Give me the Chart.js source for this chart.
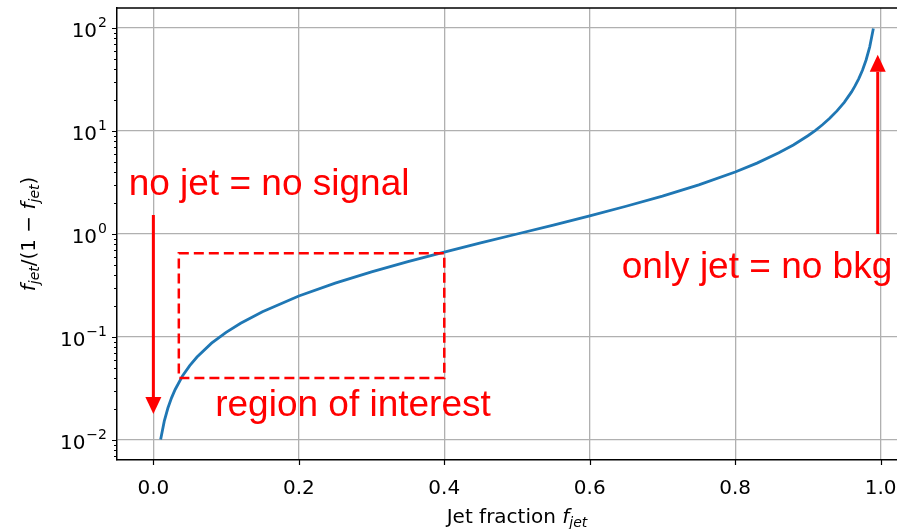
<!DOCTYPE html>
<html>
<head>
<meta charset="utf-8">
<script src="https://cdn.jsdelivr.net/npm/chart.js@4.4.1/dist/chart.umd.min.js"></script>
<style>
  html, body { margin: 0; padding: 0; background: #fff; overflow: hidden; }
  #fjet { display: block; }
</style>
</head>
<body>
<canvas id="fjet" width="930" height="529"></canvas>
<script>
  "use strict";

  // jet fraction vs f/(1-f)
  const fracX = [0.01, 0.015, 0.02, 0.025, 0.03, 0.04, 0.05, 0.06, 0.08, 0.1, 0.12, 0.15, 0.2, 0.25, 0.3, 0.35,
    0.4, 0.45, 0.5, 0.55, 0.6, 0.65, 0.7, 0.75, 0.8, 0.83, 0.86, 0.88, 0.9, 0.91, 0.92, 0.93, 0.94, 0.95,
    0.96, 0.965, 0.97, 0.975, 0.98, 0.985, 0.99];
  const ratioY = [0.0101, 0.0152, 0.0204, 0.0256, 0.0309, 0.0417, 0.0526, 0.0638, 0.087, 0.111, 0.136, 0.176,
    0.25, 0.333, 0.429, 0.538, 0.667, 0.818, 1.0, 1.22, 1.5, 1.86, 2.33, 3.0, 4.0, 4.88, 6.14, 7.33, 9.0,
    10.1, 11.5, 13.3, 15.7, 19.0, 24.0, 27.6, 32.3, 39.0, 49.0, 65.7, 99.0];

  const xTicks = [0, 0.2, 0.4, 0.6, 0.8, 1.0];
  const xTickLabels = ["0.0", "0.2", "0.4", "0.6", "0.8", "1.0"];
  const yDecades = [0.01, 0.1, 1, 10, 100];
  const yDecadeExp = ["\u22122", "\u22121", "0", "1", "2"];
  const yMinor = [0.007, 0.008, 0.009, 0.02, 0.03, 0.04, 0.05, 0.06, 0.07, 0.08, 0.09,
    0.2, 0.3, 0.4, 0.5, 0.6, 0.7, 0.8, 0.9, 2, 3, 4, 5, 6, 7, 8, 9, 20, 30, 40, 50, 60, 70, 80, 90];

  const RED = "#ff0000";
  const TXT = "#000000";
  const TICK_FONT = "DejaVu Sans";
  const FS = 20;

  function isDecade(v) {
    const l = Math.log10(v);
    return Math.abs(l - Math.round(l)) < 1e-9;
  }

  function arrow(ctx, x, y0, y1) {
    // vertical arrow from y0 to tip y1 (pixels)
    const dir = y1 > y0 ? 1 : -1;
    const headL = 17, headW = 8;
    ctx.save();
    ctx.strokeStyle = RED;
    ctx.fillStyle = RED;
    ctx.lineWidth = 3;
    ctx.beginPath();
    ctx.moveTo(x, y0);
    ctx.lineTo(x, y1 - dir * headL);
    ctx.stroke();
    ctx.beginPath();
    ctx.moveTo(x, y1);
    ctx.lineTo(x - headW, y1 - dir * headL);
    ctx.lineTo(x + headW, y1 - dir * headL);
    ctx.closePath();
    ctx.fill();
    ctx.restore();
  }

  // draws text pieces [text, italic, sub] starting at x, returns width
  function mathText(ctx, parts, x, y, size, measureOnly) {
    let w = 0;
    parts.forEach(function (p) {
      const sz = p[2] ? Math.round(size * 0.7) : size;
      ctx.font = (p[1] ? "italic " : "") + sz + "px '" + TICK_FONT + "'";
      if (!measureOnly) ctx.fillText(p[0], x + w, y + (p[2] ? size * 0.22 : 0));
      w += ctx.measureText(p[0]).width;
    });
    return w;
  }

  const notes = {
    id: "notes",
    afterDatasetsDraw(chart) {
      const { ctx, scales: { x, y } } = chart;
      ctx.save();

      // region of interest box
      ctx.strokeStyle = RED;
      ctx.lineWidth = 2.5;
      ctx.setLineDash([10, 5]);
      const bx0 = x.getPixelForValue(0.035), bx1 = x.getPixelForValue(0.4);
      const by0 = y.getPixelForValue(0.65), by1 = y.getPixelForValue(0.04);
      ctx.strokeRect(bx0, by0, bx1 - bx0, by1 - by0);
      ctx.setLineDash([]);

      arrow(ctx, x.getPixelForValue(0), y.getPixelForValue(1.53), y.getPixelForValue(0.0178));
      arrow(ctx, x.getPixelForValue(0.996), y.getPixelForValue(1.0), y.getPixelForValue(55));

      ctx.fillStyle = RED;
      ctx.font = "37px 'Liberation Sans'";
      ctx.textAlign = "left";
      ctx.textBaseline = "alphabetic";
      ctx.fillText("no jet = no signal", x.getPixelForValue(-0.034), y.getPixelForValue(2.4));
      ctx.fillText("region of interest", x.getPixelForValue(0.085), y.getPixelForValue(0.0172));
      ctx.fillText("only jet = no bkg", x.getPixelForValue(0.644), y.getPixelForValue(0.375));
      ctx.restore();
    },
    afterDraw(chart) {
      const { ctx, chartArea: a, scales: { x, y } } = chart;
      ctx.save();

      // top / right spines
      ctx.strokeStyle = "#000";
      ctx.lineWidth = 1.5;
      ctx.beginPath();
      ctx.moveTo(a.left, a.top);
      ctx.lineTo(a.right, a.top);
      ctx.lineTo(a.right, a.bottom);
      ctx.stroke();

      // tick marks
      ctx.lineWidth = 1.2;
      ctx.beginPath();
      xTicks.forEach(function (v) {
        const px = Math.round(x.getPixelForValue(v)) + 0.5;
        ctx.moveTo(px, a.bottom);
        ctx.lineTo(px, a.bottom + 5);
      });
      yDecades.forEach(function (v) {
        const py = Math.round(y.getPixelForValue(v)) + 0.5;
        ctx.moveTo(a.left, py);
        ctx.lineTo(a.left - 5, py);
      });
      yMinor.forEach(function (v) {
        const py = Math.round(y.getPixelForValue(v)) + 0.5;
        ctx.moveTo(a.left, py);
        ctx.lineTo(a.left - 3, py);
      });
      ctx.stroke();

      // x tick labels
      ctx.fillStyle = TXT;
      ctx.font = FS + "px '" + TICK_FONT + "'";
      ctx.textAlign = "center";
      ctx.textBaseline = "alphabetic";
      xTicks.forEach(function (v, i) {
        ctx.fillText(xTickLabels[i], x.getPixelForValue(v), a.bottom + 34);
      });

      // y tick labels 10^n
      ctx.textAlign = "left";
      yDecades.forEach(function (v, i) {
        const py = y.getPixelForValue(v);
        ctx.font = "14px '" + TICK_FONT + "'";
        const ew = ctx.measureText(yDecadeExp[i]).width;
        ctx.font = FS + "px '" + TICK_FONT + "'";
        const bw = ctx.measureText("10").width;
        const right = a.left - 10;
        ctx.fillText("10", right - ew - bw - 1, py + 9);
        ctx.font = "14px '" + TICK_FONT + "'";
        ctx.fillText(yDecadeExp[i], right - ew, py - 1);
      });

      // x axis title
      const xParts = [["Jet fraction ", false, false], ["f", true, false], ["jet", true, true]];
      const xw = mathText(ctx, xParts, 0, 0, FS, true);
      mathText(ctx, xParts, (a.left + a.right) / 2 - xw / 2, 523, FS, false);

      // y axis title
      const yParts = [["f", true, false], ["jet", true, true], ["/(1 \u2212 ", false, false],
        ["f", true, false], ["jet", true, true], [")", false, false]];
      const yw = mathText(ctx, yParts, 0, 0, FS, true);
      ctx.translate(35, (a.top + a.bottom) / 2);
      ctx.rotate(-Math.PI / 2);
      mathText(ctx, yParts, -yw / 2, 0, FS, false);
      ctx.restore();
    },
  };

  const points = fracX.map(function (f, i) {
    return { x: f, y: ratioY[i] };
  });

  new Chart(document.getElementById("fjet"), {
    type: "line",
    data: {
      datasets: [
        {
          data: points,
          borderColor: "#1f77b4",
          borderWidth: 2.8,
          pointRadius: 0,
          tension: 0,
          fill: false,
        },
      ],
    },
    options: {
      responsive: false,
      animation: false,
      layout: { padding: { top: 8, right: 13, left: 0, bottom: 0 } },
      plugins: {
        legend: { display: false },
        tooltip: { enabled: false },
      },
      scales: {
        x: {
          type: "linear",
          min: -0.05,
          max: 1.05,
          afterBuildTicks: (s) => {
            s.ticks = xTicks.map((v) => ({ value: v }));
          },
          afterFit: (s) => {
            s.height = 69;
          },
          ticks: { display: false },
          grid: { color: "#b0b0b0", lineWidth: 1.3, drawTicks: false },
          border: { display: true, color: "#000", width: 1.5 },
        },
        y: {
          type: "logarithmic",
          min: 0.00638,
          max: 156.7,
          afterBuildTicks: (s) => {
            s.ticks = yDecades.concat(yMinor).sort((p, q) => p - q).map((v) => ({ value: v }));
          },
          afterFit: (s) => {
            s.width = 117;
          },
          ticks: { display: false },
          grid: {
            color: (c) => (c.tick && isDecade(c.tick.value) ? "#b0b0b0" : "rgba(0,0,0,0)"),
            lineWidth: 1.3,
            drawTicks: false,
          },
          border: { display: true, color: "#000", width: 1.5 },
        },
      },
    },
    plugins: [notes],
  });
</script>
</body>
</html>
